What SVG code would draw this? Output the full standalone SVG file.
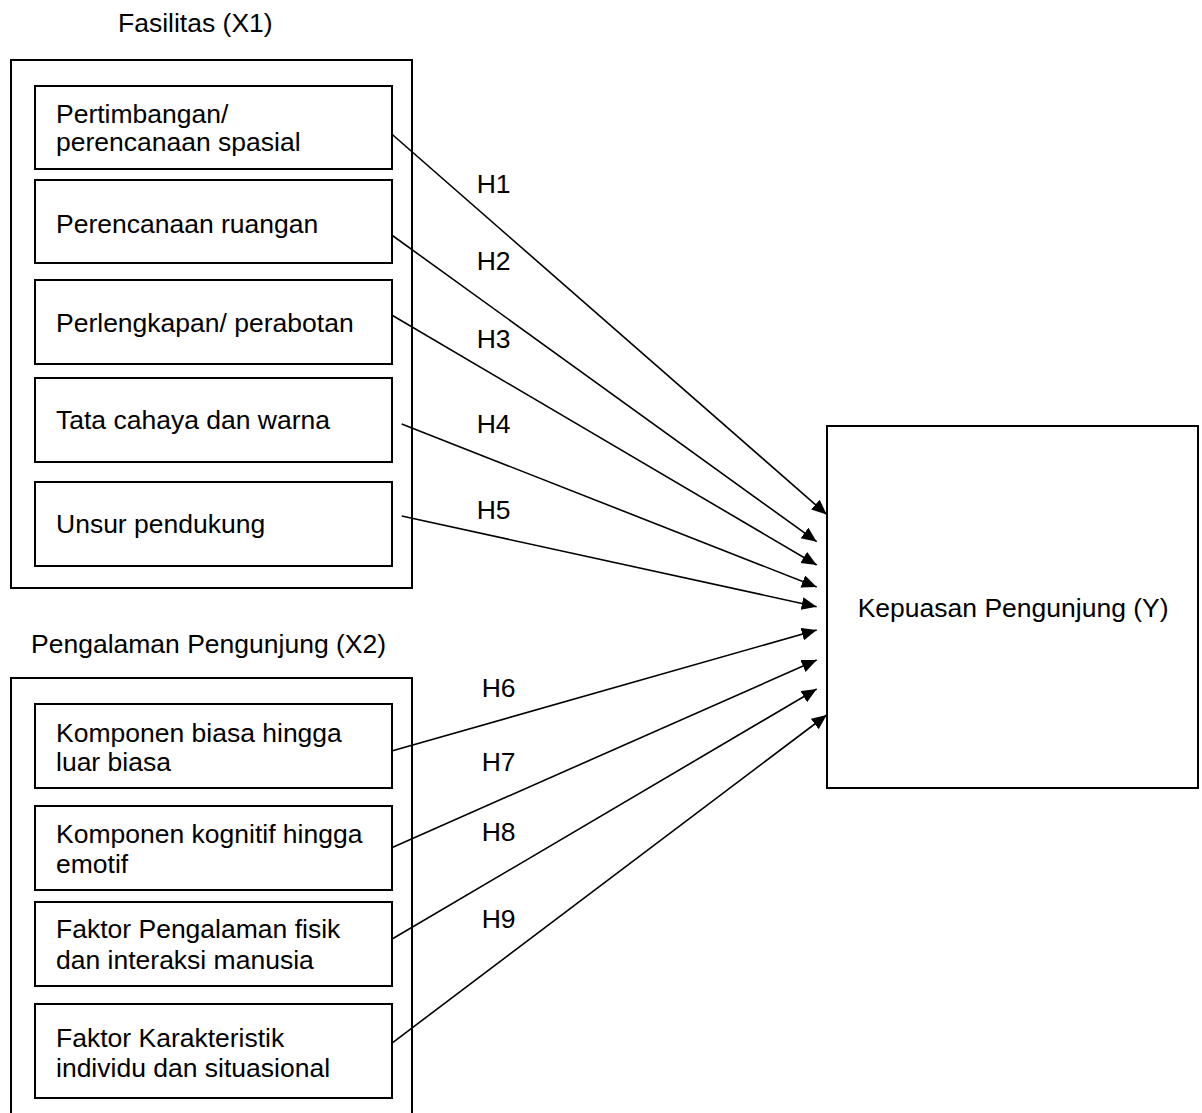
<svg xmlns="http://www.w3.org/2000/svg" width="1202" height="1113" viewBox="0 0 1202 1113">
<style>
text{font-family:"Liberation Sans",Arial,sans-serif;font-size:26.5px;fill:#000}
.outer{fill:none;stroke:#000;stroke-width:2}
.inner{fill:#fff;stroke:#000;stroke-width:2}
.conn line{stroke:#000;stroke-width:1.6;marker-end:url(#arr)}
</style>
<defs>
<marker id="arr" markerUnits="userSpaceOnUse" markerWidth="16" markerHeight="14" refX="15" refY="6.5" orient="auto">
<path d="M0,0 L15,6.5 L0,13 z" fill="#000"/>
</marker>
</defs>
<rect width="1202" height="1113" fill="#fff"/>
<g id="group-x1">
<text x="118" y="32">Fasilitas (X1)</text>
<rect class="outer" x="11" y="60" width="401" height="528"/>
</g>
<g id="group-x2">
<text x="31" y="653">Pengalaman Pengunjung (X2)</text>
<rect class="outer" x="11" y="678" width="401" height="450"/>
</g>
<g id="n1"><rect class="inner" x="35" y="86" width="357" height="83"/><text x="56" y="122.7">Pertimbangan/</text><text x="56" y="151">perencanaan spasial</text></g>
<g id="n2"><rect class="inner" x="35" y="180" width="357" height="83"/><text x="56" y="233.3">Perencanaan ruangan</text></g>
<g id="n3"><rect class="inner" x="35" y="280" width="357" height="84"/><text x="56" y="331.7">Perlengkapan/ perabotan</text></g>
<g id="n4"><rect class="inner" x="35" y="378" width="357" height="84"/><text x="56" y="429.3">Tata cahaya dan warna</text></g>
<g id="n5"><rect class="inner" x="35" y="482" width="357" height="84"/><text x="56" y="533.3">Unsur pendukung</text></g>
<g id="n6"><rect class="inner" x="35" y="704" width="357" height="84"/><text x="56" y="741.7">Komponen biasa hingga</text><text x="56" y="771">luar biasa</text></g>
<g id="n7"><rect class="inner" x="35" y="806" width="357" height="84"/><text x="56" y="843.3">Komponen kognitif hingga</text><text x="56" y="873.3">emotif</text></g>
<g id="n8"><rect class="inner" x="35" y="902" width="357" height="84"/><text x="56" y="938.3">Faktor Pengalaman fisik</text><text x="56" y="969.3">dan interaksi manusia</text></g>
<g id="n9"><rect class="inner" x="35" y="1004" width="357" height="94"/><text x="56" y="1046.7">Faktor Karakteristik</text><text x="56" y="1077.3">individu dan situasional</text></g>
<g id="y"><rect class="inner" x="827" y="426" width="371" height="362"/><text x="857.7" y="616.7">Kepuasan Pengunjung (Y)</text></g>
<g id="connectors" class="conn">
<line x1="391.7" y1="134" x2="826.7" y2="514.5"/>
<line x1="391.7" y1="235" x2="816.7" y2="541.7"/>
<line x1="391.7" y1="315" x2="816.7" y2="565"/>
<line x1="401.7" y1="424" x2="816.7" y2="587"/>
<line x1="401.7" y1="516" x2="816.7" y2="606.7"/>
<line x1="391.7" y1="751" x2="816.7" y2="630"/>
<line x1="391.7" y1="847.7" x2="816.7" y2="660"/>
<line x1="391.7" y1="939.3" x2="816.7" y2="689"/>
<line x1="391.7" y1="1043.3" x2="826.7" y2="715"/>
</g>
<g id="labels">
<text x="476.7" y="193">H1</text>
<text x="476.7" y="270">H2</text>
<text x="476.7" y="348">H3</text>
<text x="476.7" y="433">H4</text>
<text x="476.7" y="518.5">H5</text>
<text x="481.7" y="697">H6</text>
<text x="481.7" y="771">H7</text>
<text x="481.7" y="841">H8</text>
<text x="481.7" y="928">H9</text>
</g>
</svg>
